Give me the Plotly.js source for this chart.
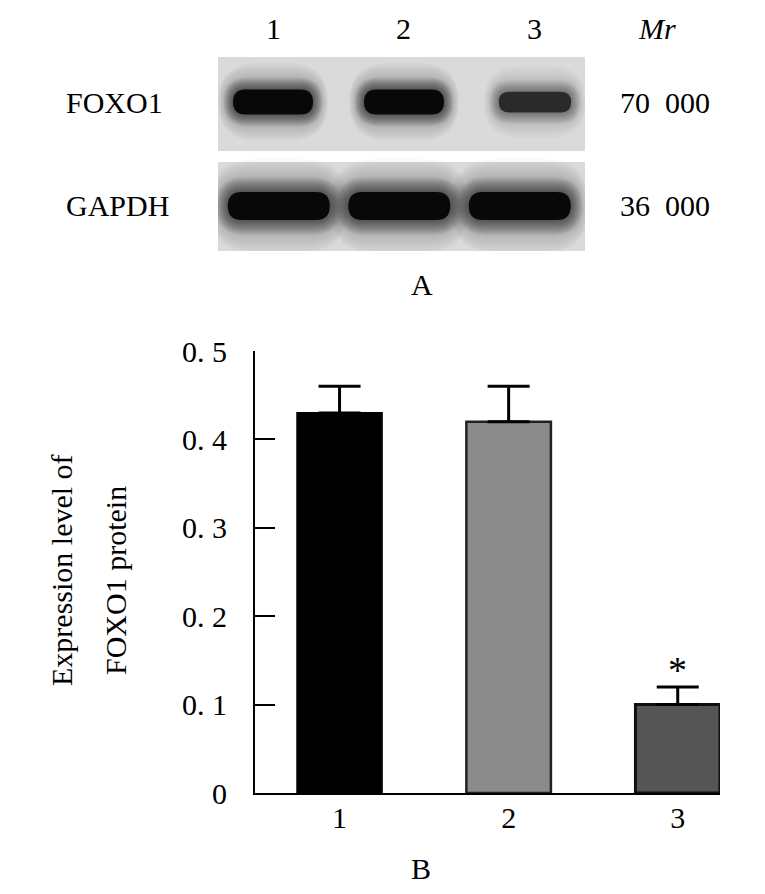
<!DOCTYPE html>
<html>
<head>
<meta charset="utf-8">
<script src="https://cdn.plot.ly/plotly-3.0.1.min.js"></script>
<style>
html,body{margin:0;padding:0;background:#fff;}
#chart{width:765px;height:894px;}
</style>
</head>
<body>
<div id="chart"></div>
<script>
// ---------- data ----------
const groups = [1, 2, 3];
const groupLabels = ['1', '2', '3'];
const expression = [0.43, 0.42, 0.10];
const errorUp = [0.03, 0.04, 0.02];
const significance = ['', '', '*'];
const yTickVals = [0, 0.1, 0.2, 0.3, 0.4, 0.5];
const yTickText = ['0', '0. 1', '0. 2', '0. 3', '0. 4', '0. 5'];
const blotProteins = ['FOXO1', 'GAPDH'];
const blotMr = ['70\u00a0\u00a0000', '36\u00a0\u00a0000'];
const foxo1Density = [1.0, 1.0, 0.62];
const gapdhDensity = [1.0, 1.0, 1.0];

// ---------- geometry / style ----------
const W = 765, H = 894;
const px = x => x / W;
const py = y => 1 - y / H;
const FONT = 'Liberation Serif, Times New Roman, serif';
const XPX = 131, YPX = 104; // pixels per unit on blot axes

const rowGeom = [
  {y: 1, center: 2.0, spacing: 1.0, w: 80, h: 25, halo: 12, box: [0.567, 1.471], dens: foxo1Density},
  {y: 2, center: 1.964, spacing: 0.92, w: 102, h: 28, halo: 15, box: [1.577, 2.433], dens: gapdhDensity}
];

function stadium(cx, cy, wpx, hpx) {
  const r = Math.min(hpx / 2, wpx / 2);
  const hx = wpx / 2 / XPX, hy = hpx / 2 / YPX, rx = r / XPX;
  const x0 = cx - hx, x1 = cx + hx, y0 = cy - hy, y1 = cy + hy;
  return `M${x0 + rx},${y0} L${x1 - rx},${y0} Q${x1},${y0} ${x1},${cy} Q${x1},${y1} ${x1 - rx},${y1} ` +
         `L${x0 + rx},${y1} Q${x0},${y1} ${x0},${cy} Q${x0},${y0} ${x0 + rx},${y0} Z`;
}

const shapes = [];
const bandX = [], bandY = [];
rowGeom.forEach(row => {
  shapes.push({type: 'rect', xref: 'x2', yref: 'y2', x0: 0.58, x1: 3.382, y0: row.box[0], y1: row.box[1],
               fillcolor: '#dadada', line: {width: 0}, layer: 'below'});
  groups.forEach((g, i) => {
    const d = row.dens[i];
    const cx = row.center + (g - 2) * row.spacing;
    bandX.push(cx); bandY.push(row.y);
    const w = row.w * (0.75 + 0.25 * d);
    const h = row.h * (0.55 + 0.45 * d);
    // faint wide haze
    const M = 8;
    for (let k = M; k >= 1; k--) {
      const ey = row.halo * (1 + 1.2 * k / M), ex = 0.8 * row.halo * (1 + 0.6 * k / M);
      shapes.push({type: 'path', xref: 'x2', yref: 'y2', path: stadium(cx, row.y, w + 2 * ex, h + 2 * ey),
                   fillcolor: `rgba(0,0,0,${(0.02 * d).toFixed(3)})`, line: {width: 0}, layer: 'below'});
    }
    // inner halo
    const N = 12;
    for (let k = N; k >= 1; k--) {
      const ey = row.halo * k / N, ex = 0.8 * row.halo * k / N;
      shapes.push({type: 'path', xref: 'x2', yref: 'y2', path: stadium(cx, row.y, w + 2 * ex, h + 2 * ey),
                   fillcolor: `rgba(0,0,0,${(0.055 * d).toFixed(3)})`, line: {width: 0}, layer: 'below'});
    }
    const c = Math.round(8 + (1 - d) * 90);
    shapes.push({type: 'path', xref: 'x2', yref: 'y2', path: stadium(cx, row.y, w, h),
                 fillcolor: `rgb(${c},${c},${c})`, line: {width: 0}, layer: 'below'});
  });
});

// ---------- traces ----------
const barTrace = {
  type: 'bar', x: groups, y: expression, width: 0.5,
  marker: {color: ['#000000', '#8b8b8b', '#555555'],
           line: {color: ['#000000', '#222222', '#111111'], width: [2, 2.5, 3]}},
  error_y: {type: 'data', symmetric: false, array: errorUp, arrayminus: errorUp.map(() => 0),
            color: '#000', thickness: 3, width: 21},
  hoverinfo: 'skip', xaxis: 'x', yaxis: 'y'
};
const blotTrace = {
  type: 'scatter', mode: 'markers', x: bandX, y: bandY, marker: {opacity: 0, size: 1},
  hoverinfo: 'skip', xaxis: 'x2', yaxis: 'y2'
};

// ---------- annotations ----------
const annotations = [];
const tf = {family: FONT, size: 30, color: '#000'};
groups.forEach((g, i) => {
  annotations.push({xref: 'x2', yref: 'paper', x: g, y: py(28), text: groupLabels[i], showarrow: false,
                    font: tf, xanchor: 'center', yanchor: 'middle'});
  if (significance[i]) {
    annotations.push({xref: 'x', yref: 'y', x: g, y: expression[i] + errorUp[i], text: significance[i],
                      showarrow: false, font: {family: FONT, size: 38, color: '#000'},
                      xanchor: 'center', yanchor: 'bottom', yshift: -6});
  }
});
annotations.push({xref: 'paper', yref: 'paper', x: px(657), y: py(28), text: '<i>Mr</i>', showarrow: false,
                  font: tf, xanchor: 'center', yanchor: 'middle'});
blotProteins.forEach((p, i) => {
  annotations.push({xref: 'paper', yref: 'y2', x: px(64), y: rowGeom[i].y, text: p, showarrow: false,
                    font: tf, xanchor: 'left', yanchor: 'middle'});
  annotations.push({xref: 'paper', yref: 'y2', x: px(618), y: rowGeom[i].y, text: blotMr[i], showarrow: false,
                    font: tf, xanchor: 'left', yanchor: 'middle'});
});
annotations.push({xref: 'paper', yref: 'paper', x: px(422), y: py(285), text: 'A', showarrow: false,
                  font: tf, xanchor: 'center', yanchor: 'middle'});
annotations.push({xref: 'paper', yref: 'paper', x: px(421), y: py(868), text: 'B', showarrow: false,
                  font: tf, xanchor: 'center', yanchor: 'middle'});
annotations.push({xref: 'paper', yref: 'paper', x: px(61), y: py(570), text: 'Expression level of', showarrow: false,
                  font: tf, textangle: -90, xanchor: 'center', yanchor: 'middle'});
annotations.push({xref: 'paper', yref: 'paper', x: px(115), y: py(581), text: 'FOXO1 protein', showarrow: false,
                  font: tf, textangle: -90, xanchor: 'center', yanchor: 'middle'});

// ---------- layout ----------
const layout = {
  width: W, height: H, margin: {l: 0, r: 0, t: 0, b: 0},
  paper_bgcolor: '#fff', plot_bgcolor: 'rgba(0,0,0,0)', showlegend: false,
  font: {family: FONT, size: 30, color: '#000'},
  xaxis: {domain: [px(255), px(720)], range: [0.5, 3.25], tickvals: groups, ticktext: groupLabels,
          showline: true, linecolor: '#000', linewidth: 2, ticks: '', showgrid: false, zeroline: false,
          tickfont: tf, ticklabelstandoff: -3, fixedrange: true},
  yaxis: {domain: [py(793), py(351)], range: [0, 0.5], tickvals: yTickVals, ticktext: yTickText,
          showline: true, linecolor: '#000', linewidth: 2, ticks: 'inside', ticklen: 20, tickwidth: 2,
          tickcolor: '#000', showgrid: false, zeroline: false, tickfont: tf, ticklabelstandoff: 20, fixedrange: true},
  xaxis2: {domain: [px(218), px(585)], range: [0.58, 3.382], visible: false, fixedrange: true, anchor: 'y2'},
  yaxis2: {domain: [py(251), py(57)], range: [2.433, 0.567], visible: false, fixedrange: true, anchor: 'x2'},
  shapes: shapes, annotations: annotations
};

Plotly.newPlot('chart', [barTrace, blotTrace], layout, {displayModeBar: false, staticPlot: true});
</script>
</body>
</html>
